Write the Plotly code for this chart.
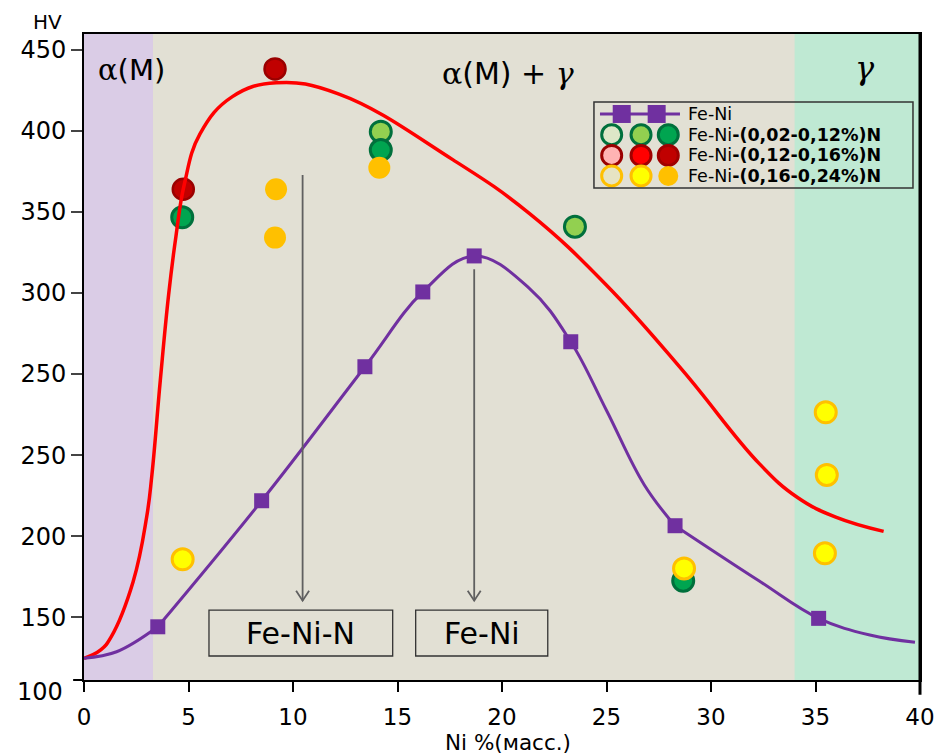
import plotly.graph_objects as go

# ---------------- data ----------------
NI_TICKS = [0, 5, 10, 15, 20, 25, 30, 35, 40]
Y_TICK_VALS = [150, 200, 250, 300, 350, 400, 450, 500]
Y_TICK_TEXT = ["150", "200", "250", "250", "300", "350", "400", "450"]
Y_BOTTOM_LABEL = "100"

# Fe-Ni measured points (squares) and its fitted curve
FE_NI_X = [3.53, 8.50, 13.44, 16.21, 18.67, 23.29, 28.28, 35.15]
FE_NI_Y = [144.2, 221.9, 304.5, 350.6, 372.8, 319.9, 206.5, 149.4]
FE_NI_CURVE_X = [0, 1.56, 3.53, 8.50, 13.44, 16.21, 18.67, 21.32, 23.29, 24.99, 26.81,
                 28.28, 32.31, 35.15, 37.6, 39.76]
FE_NI_CURVE_Y = [124.8, 128.8, 144.2, 221.9, 304.5, 350.6, 372.8, 352.7, 319.9, 277.8, 231.6,
                 206.5, 172.4, 149.4, 139.1, 134.6]
FE_NI_CURVE_BREAKS = [3.53, 28.28]   # the curve bends sharply at these squares

# Fe-Ni-N curve (red)
FE_NI_N_CURVE_X = [0, 0.8, 1.3, 2.35, 3.0, 3.25, 3.65, 4.05, 4.4, 4.8, 5.55, 7.1, 9.2, 12.17,
                   17.66, 21.32, 24.99, 28.65, 32.31, 34.14, 35.97, 38.26]
FE_NI_N_CURVE_Y = [124.8, 130.0, 138.0, 172.0, 212.0, 238.0, 296.0, 349.0, 385.0, 417.0, 448.0, 471.0,
                   479.5, 472.7, 432.0, 398.9, 354.9, 302.1, 244.8, 223.9, 211.8, 203.0]

# Fe-Ni-(0,02-0,12%)N points
GREEN_LIGHT_X = [14.20, 23.49]
GREEN_LIGHT_Y = [449.4, 390.8]
GREEN_DARK_X = [4.70, 14.20, 28.67]
GREEN_DARK_Y = [396.6, 438.1, 172.6]
# Fe-Ni-(0,12-0,16%)N points
RED_DARK_X = [9.14, 4.75]
RED_DARK_Y = [488.1, 413.9]
# Fe-Ni-(0,16-0,24%)N points
GOLD_X = [9.19, 9.14, 14.13]
GOLD_Y = [413.9, 384.1, 427.2]
YELLOW_X = [4.72, 28.71, 35.49, 35.54, 35.45]
YELLOW_Y = [185.8, 180.2, 276.4, 237.8, 189.5]

PHASE_BOUNDS = [0, 3.3, 34, 40]
PHASE_COLORS = ["#DACCE6", "#E2E0D4", "#BFE9D3"]

LEGEND_LABELS = ["Fe-Ni",
                 "Fe-Ni<b>-(0,02-0,12%)N</b>",
                 "Fe-Ni<b>-(0,12-0,16%)N</b>",
                 "Fe-Ni<b>-(0,16-0,24%)N</b>"]

FONT = "DejaVu Sans"
PURPLE = "#7030A0"

fig = go.Figure()

def dots(x, y, fill, border, bw, size=21, xa="x", ya="y"):
    fig.add_trace(go.Scatter(
        x=x, y=y, mode="markers", xaxis=xa, yaxis=ya, showlegend=False,
        hoverinfo="skip" if xa != "x" else None,
        marker=dict(symbol="circle", size=size, color=fill, line=dict(color=border, width=bw))))

# points
dots(GREEN_LIGHT_X, GREEN_LIGHT_Y, "#92D050", "#00703C", 3)
dots(GREEN_DARK_X, GREEN_DARK_Y, "#00A550", "#00703C", 3)
dots(RED_DARK_X, RED_DARK_Y, "#C00000", "#9A0000", 2.5)
dots(GOLD_X, GOLD_Y, "#FFC000", "#FFC000", 0, size=22)
dots(YELLOW_X, YELLOW_Y, "#FFFF00", "#FFC000", 3)

# red curve
fig.add_trace(go.Scatter(x=FE_NI_N_CURVE_X, y=FE_NI_N_CURVE_Y, mode="lines", showlegend=False,
                         line=dict(color="#FF0000", width=3.5, shape="spline", smoothing=1.2)))

# purple curve, drawn as smooth pieces between the sharp bends
cuts = [0] + [FE_NI_CURVE_X.index(b) for b in FE_NI_CURVE_BREAKS] + [len(FE_NI_CURVE_X) - 1]
for a, b in zip(cuts[:-1], cuts[1:]):
    fig.add_trace(go.Scatter(x=FE_NI_CURVE_X[a:b + 1], y=FE_NI_CURVE_Y[a:b + 1], mode="lines",
                             showlegend=False,
                             line=dict(color=PURPLE, width=3, shape="spline", smoothing=1.1)))
fig.add_trace(go.Scatter(x=FE_NI_X, y=FE_NI_Y, mode="markers", showlegend=False,
                         marker=dict(symbol="square", size=15, color=PURPLE)))

# ---------------- manual legend (overlay axes in 0..1 units) ----------------
LEG_ROW_Y = [0.8762, 0.8441, 0.8121, 0.7802]
LEG_DOT_X = [0.6312, 0.6663, 0.6989]
fig.add_trace(go.Scatter(x=[0.6172, 0.7129], y=[LEG_ROW_Y[0]] * 2, mode="lines", xaxis="x2", yaxis="y2",
                         showlegend=False, hoverinfo="skip", line=dict(color=PURPLE, width=3)))
fig.add_trace(go.Scatter(x=[0.6432, 0.6850], y=[LEG_ROW_Y[0]] * 2, mode="markers", xaxis="x2", yaxis="y2",
                         showlegend=False, hoverinfo="skip", marker=dict(symbol="square", size=18, color=PURPLE)))
legend_styles = [
    [("#DDE7C7", "#00703C", 3), ("#92D050", "#00703C", 3), ("#00A550", "#00703C", 3)],
    [("#FFB3B3", "#9A0000", 3), ("#FF0000", "#A00000", 3), ("#C00000", "#A00000", 3)],
    [("#E6E3C3", "#FFC000", 3), ("#FFFF00", "#FFC000", 3), ("#FFC000", "#FFC000", 0)],
]
for r, row in enumerate(legend_styles):
    for c, (f, b, w) in enumerate(row):
        dots([LEG_DOT_X[c]], [LEG_ROW_Y[r + 1]], f, b, w, size=20, xa="x2", ya="y2")

annotations = []
for r, lab in enumerate(LEGEND_LABELS):
    annotations.append(dict(text=lab, xref="paper", yref="paper", x=0.7201, y=LEG_ROW_Y[r],
                            xanchor="left", yanchor="middle", showarrow=False,
                            font=dict(family=FONT, size=17.5, color="black")))

shapes = []
# phase backgrounds
for i, col in enumerate(PHASE_COLORS):
    shapes.append(dict(type="rect", xref="x", yref="paper", x0=PHASE_BOUNDS[i], x1=PHASE_BOUNDS[i + 1],
                       y0=0, y1=1, fillcolor=col, line=dict(width=0), layer="below"))
# legend frame
shapes.append(dict(type="rect", xref="paper", yref="paper", x0=0.610, x1=0.9916, y0=0.7616, y1=0.8947,
                   line=dict(color="#333333", width=1.5), fillcolor="rgba(0,0,0,0)"))

# arrows
ARROW_X = [10.46, 18.67]
ARROW_TOP = [422.7, 364.6]
ARROW_TIP = [160.3, 160.3]
for ax_, top, tip in zip(ARROW_X, ARROW_TOP, ARROW_TIP):
    shapes.append(dict(type="line", xref="x", yref="y", x0=ax_, x1=ax_, y0=top, y1=tip,
                       line=dict(color="#606060", width=1.8)))
    shapes.append(dict(type="path", xref="x", yref="y", xsizemode="pixel", ysizemode="pixel",
                       xanchor=ax_, yanchor=tip, path="M-6.5,10 L0,0 L6.5,10",
                       line=dict(color="#606060", width=1.8)))

# label boxes
BOX_X0 = [5.98, 15.87]
BOX_X1 = [14.77, 22.19]
BOX_Y0, BOX_Y1 = 126.2, 154.5
BOX_TEXT = ["Fe-Ni-N", "Fe-Ni"]
for x0, x1, t in zip(BOX_X0, BOX_X1, BOX_TEXT):
    shapes.append(dict(type="rect", xref="x", yref="y", x0=x0, x1=x1, y0=BOX_Y0, y1=BOX_Y1,
                       line=dict(color="#333333", width=1.3), fillcolor="rgba(0,0,0,0)"))
    annotations.append(dict(text=t, xref="x", yref="y", x=(x0 + x1) / 2, y=(BOX_Y0 + BOX_Y1) / 2,
                            xanchor="center", yanchor="middle",
                            showarrow=False, font=dict(family=FONT, size=30, color="black")))

# thick right border and bottom-left stub
shapes.append(dict(type="line", xref="paper", yref="paper", x0=1, x1=1, y0=-0.023, y1=1,
                   line=dict(color="black", width=3)))
shapes.append(dict(type="line", xref="paper", yref="paper", x0=-0.013, x1=0, y0=0, y1=0,
                   line=dict(color="black", width=2)))

SERIF = "<span style='font-family:DejaVu Serif'>{}</span>"
def note(text, x, y, size, anchor="center"):
    annotations.append(dict(text=text, xref="paper", yref="paper", x=x, y=y, xanchor=anchor,
                            yanchor="middle", showarrow=False,
                            font=dict(family=FONT, size=size, color="black")))

note(SERIF.format("α") + "(M)", 0.0574, 0.9443, 29)
note(SERIF.format("α") + "(M) + " + SERIF.format("<i>γ</i>"), 0.5072, 0.9396, 30)
note(SERIF.format("<i>γ</i>"), 0.9342, 0.9474, 32)
note("HV", -0.0431, 1.0185, 20)
note(Y_BOTTOM_LABEL, -0.0227, -0.0186, 24, anchor="right")
note("Ni %(масс.)", 0.5066, -0.0975, 21.5)

fig.update_layout(
    width=938, height=748,
    margin=dict(l=76, r=26, t=26, b=76),
    paper_bgcolor="white", plot_bgcolor="#E2E0D4",
    font=dict(family=FONT, color="black"),
    shapes=shapes, annotations=annotations,
    xaxis=dict(range=[0, 40], tickvals=NI_TICKS, ticks="outside", ticklen=10, tickwidth=2,
               tickcolor="black", showline=True, linewidth=2, linecolor="black", mirror=True,
               showgrid=False, zeroline=False, tickfont=dict(size=23, family=FONT),
               ticklabelstandoff=5),
    yaxis=dict(range=[111.4, 509.6], tickvals=Y_TICK_VALS, ticktext=Y_TICK_TEXT, ticks="outside",
               ticklen=11, tickwidth=2, tickcolor="#444", showline=True, linewidth=2, linecolor="black",
               mirror=True, showgrid=False, zeroline=False, tickfont=dict(size=24, family=FONT),
               ticklabelstandoff=0),
    xaxis2=dict(overlaying="x", range=[0, 1], visible=False, anchor="y2"),
    yaxis2=dict(overlaying="y", range=[0, 1], visible=False, anchor="x2"),
)

fig.write_html("out.html")
